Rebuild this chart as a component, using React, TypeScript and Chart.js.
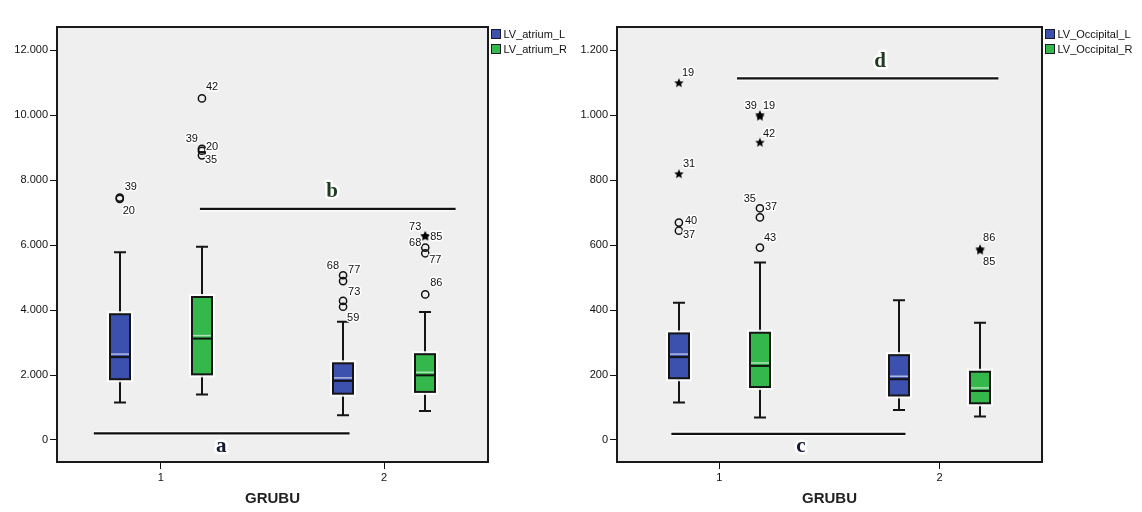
import React, { useEffect, useRef } from 'react';
import { Chart, registerables } from 'chart.js';

Chart.register(...registerables);

// ---------------- DATA ----------------
const GROUPS = [1, 2];
const GROUP_LABELS = ['1', '2'];

const ATRIUM_NAMES = ['LV_atrium_L', 'LV_atrium_R'];
// per group: [lower whisker, Q1, median, Q3, upper whisker]
const atriumL = [
  [1150, 1870, 2550, 3870, 5780],
  [760, 1425, 1820, 2360, 3640],
];
const atriumR = [
  [1400, 2020, 3120, 4400, 5950],
  [890, 1480, 1990, 2640, 3940],
];
const atriumTicks = [0, 2000, 4000, 6000, 8000, 10000, 12000];
// [seriesIndex, group, value, caseId, extreme(1) / outlier(0)]
const atriumOutliers: [number, number, number, string, number][] = [
  [0, 1, 7460, '39', 0],
  [0, 1, 7420, '20', 0],
  [1, 1, 10510, '42', 0],
  [1, 1, 8960, '39', 0],
  [1, 1, 8900, '20', 0],
  [1, 1, 8760, '35', 0],
  [0, 2, 5070, '68', 0],
  [0, 2, 4890, '77', 0],
  [0, 2, 4280, '73', 0],
  [0, 2, 4100, '59', 0],
  [1, 2, 6280, '73', 1],
  [1, 2, 6260, '85', 1],
  [1, 2, 5920, '68', 0],
  [1, 2, 5745, '77', 0],
  [1, 2, 4480, '86', 0],
];
// significance bars: [from group pos, to group pos, value, letter, letter pos, letter value]
const atriumSig: [number, number, number, string, number, number][] = [
  [0.7, 1.845, 205, 'a', 1.27, -205],
  [1.175, 2.32, 7110, 'b', 1.767, 7630],
];

const OCC_NAMES = ['LV_Occipital_L', 'LV_Occipital_R'];
const occL = [
  [115, 190, 255, 328, 422],
  [92, 137, 187, 261, 430],
];
const occR = [
  [69, 163, 228, 330, 546],
  [72, 113, 151, 210, 361],
];
const occTicks = [0, 200, 400, 600, 800, 1000, 1200];
const occOutliers: [number, number, number, string, number][] = [
  [0, 1, 1098, '19', 1],
  [0, 1, 818, '31', 1],
  [0, 1, 669, '40', 0],
  [0, 1, 644, '37', 0],
  [1, 1, 1000, '39', 1],
  [1, 1, 995, '19', 1],
  [1, 1, 915, '42', 1],
  [1, 1, 713, '35', 0],
  [1, 1, 685, '37', 0],
  [1, 1, 592, '43', 0],
  [1, 2, 587, '86', 1],
  [1, 2, 583, '85', 1],
];
const occSig: [number, number, number, string, number, number][] = [
  [0.782, 1.845, 19, 'c', 1.37, -21],
  [1.08, 2.267, 1113, 'd', 1.73, 1164],
];

// ---------------- STYLE ----------------
// label placement for case ids: [dx, dy, align]
const atriumLabelPos: [number, number, string][] = [
  [5, -11, 'l'], [3, 12, 'l'],
  [4, -11, 'l'], [-4, -10, 'r'], [4, -4, 'l'], [3, 5, 'l'],
  [-4, -9, 'r'], [5, -11, 'l'], [5, -9, 'l'], [4, 11, 'l'],
  [-4, -9, 'r'], [5, 0, 'l'], [-4, -5, 'r'], [4, 7, 'l'], [5, -11, 'l'],
];
const occLabelPos: [number, number, string][] = [
  [3, -10, 'l'], [4, -10, 'l'], [6, -2, 'l'], [4, 4, 'l'],
  [-3, -9, 'r'], [3, -11, 'l'], [3, -9, 'l'], [-4, -9, 'r'], [5, -10, 'l'], [4, -10, 'l'],
  [3, -11, 'l'], [3, 11, 'l'],
];

const FONT = '"Liberation Sans", Arial, Helvetica, sans-serif';
const SERIES_COLORS = ['#3c50ae', '#34b84b'];
const SERIES_OFFSETS = [-0.184, 0.184];
const LETTER_COLORS: Record<string, string> = { a: '#141a33', b: '#1e3b1e', c: '#141a33', d: '#1e3b1e' };
const fmt = (v: number) => (v === 0 ? '0' : String(v).replace(/\B(?=(\d{3})+(?!\d))/g, '.'));

function makeStar(r: number) {
  const c = document.createElement('canvas');
  const s = Math.ceil(r * 2 + 2);
  c.width = s;
  c.height = s;
  const ctx = c.getContext('2d')!;
  ctx.translate(s / 2, s / 2);
  ctx.beginPath();
  for (let i = 0; i < 10; i++) {
    const rad = i % 2 === 0 ? r : r * 0.45;
    const a = -Math.PI / 2 + (i * Math.PI) / 5;
    ctx.lineTo(rad * Math.cos(a), rad * Math.sin(a));
  }
  ctx.closePath();
  ctx.fillStyle = '#000';
  ctx.fill();
  return c;
}

type PanelCfg = {
  key: string;
  names: string[];
  series: number[][][];
  ticks: number[];
  outliers: [number, number, number, string, number][];
  labelPos: [number, number, string][];
  sig: [number, number, number, string, number, number][];
  yMin: number;
  yMax: number;
  yWidth: number;
  padRight: number;
};

function haloText(ctx: CanvasRenderingContext2D, t: string, x: number, y: number, color: string, halo = 3) {
  ctx.lineJoin = 'round';
  ctx.strokeStyle = 'rgba(255,255,255,0.95)';
  ctx.lineWidth = halo;
  ctx.strokeText(t, x, y);
  ctx.fillStyle = color;
  ctx.fillText(t, x, y);
}

function makePlugin(p: PanelCfg) {
  return {
    id: 'spss_' + p.key,
    beforeDatasetsDraw(chart: any) {
      const { ctx, chartArea: a, scales } = chart;
      const x = scales.x;
      const y = scales.y;
      ctx.save();
      ctx.fillStyle = '#efefef';
      ctx.fillRect(a.left, a.top, a.right - a.left, a.bottom - a.top);
      const hw = 10;
      const capW = 6;
      p.series.forEach((stats, si) => {
        stats.forEach((s, gi) => {
          const cx = Math.round(x.getPixelForValue(GROUPS[gi] + SERIES_OFFSETS[si]));
          const [lo, q1, med, q3, hi] = s.map((v) => y.getPixelForValue(v));
          ctx.strokeStyle = '#151515';
          ctx.lineWidth = 2;
          ctx.beginPath();
          ctx.moveTo(cx, q3);
          ctx.lineTo(cx, hi);
          ctx.moveTo(cx - capW, hi);
          ctx.lineTo(cx + capW, hi);
          ctx.moveTo(cx, q1);
          ctx.lineTo(cx, lo);
          ctx.moveTo(cx - capW, lo);
          ctx.lineTo(cx + capW, lo);
          ctx.stroke();
          // halo
          ctx.strokeStyle = 'rgba(255,255,255,0.9)';
          ctx.lineWidth = 6;
          ctx.strokeRect(cx - hw, q3, hw * 2, q1 - q3);
          ctx.fillStyle = SERIES_COLORS[si];
          ctx.fillRect(cx - hw, q3, hw * 2, q1 - q3);
          // median
          ctx.strokeStyle = 'rgba(255,255,255,0.6)';
          ctx.lineWidth = 1.5;
          ctx.beginPath();
          ctx.moveTo(cx - hw, med - 3);
          ctx.lineTo(cx + hw, med - 3);
          ctx.stroke();
          ctx.strokeStyle = '#111';
          ctx.lineWidth = 2;
          ctx.beginPath();
          ctx.moveTo(cx - hw, med);
          ctx.lineTo(cx + hw, med);
          ctx.stroke();
          ctx.strokeStyle = '#151515';
          ctx.lineWidth = 2;
          ctx.strokeRect(cx - hw, q3, hw * 2, q1 - q3);
        });
      });
      ctx.restore();
    },
    afterDatasetsDraw(chart: any) {
      const { ctx, scales } = chart;
      const x = scales.x;
      const y = scales.y;
      ctx.save();
      // case labels
      ctx.font = '11px ' + FONT;
      ctx.textBaseline = 'middle';
      p.outliers.forEach((o, i) => {
        const px = x.getPixelForValue(o[1] + SERIES_OFFSETS[o[0]]);
        const py = y.getPixelForValue(o[2]);
        const [dx, dy, al] = p.labelPos[i];
        ctx.textAlign = al === 'r' ? 'right' : 'left';
        haloText(ctx, o[3], px + dx, py + dy, '#111');
      });
      // significance bars
      p.sig.forEach(([x0, x1, v, letter, lx, lv]) => {
        const py = y.getPixelForValue(v);
        ctx.strokeStyle = 'rgba(255,255,255,0.8)';
        ctx.lineWidth = 5;
        ctx.beginPath();
        ctx.moveTo(x.getPixelForValue(x0), py);
        ctx.lineTo(x.getPixelForValue(x1), py);
        ctx.stroke();
        ctx.strokeStyle = '#111';
        ctx.lineWidth = 2.2;
        ctx.beginPath();
        ctx.moveTo(x.getPixelForValue(x0), py);
        ctx.lineTo(x.getPixelForValue(x1), py);
        ctx.stroke();
        ctx.font = 'bold 21px "Liberation Serif", "Times New Roman", serif';
        ctx.textAlign = 'center';
        ctx.textBaseline = 'middle';
        haloText(ctx, letter, x.getPixelForValue(lx), y.getPixelForValue(lv), LETTER_COLORS[letter], 5);
      });
      ctx.restore();
    },
    afterDraw(chart: any) {
      const { ctx, chartArea: a } = chart;
      ctx.save();
      ctx.strokeStyle = '#1a1a1a';
      ctx.lineWidth = 2;
      ctx.strokeRect(a.left, a.top, a.right - a.left, a.bottom - a.top);
      // legend
      ctx.font = '11px ' + FONT;
      ctx.textAlign = 'left';
      ctx.textBaseline = 'middle';
      p.names.forEach((n, i) => {
        const lx = a.right + 3.5;
        const ly = a.top + 2.5 + i * 15;
        ctx.fillStyle = SERIES_COLORS[i];
        ctx.fillRect(lx, ly, 9, 9);
        ctx.strokeStyle = '#1a1a2a';
        ctx.lineWidth = 1;
        ctx.strokeRect(lx, ly, 9, 9);
        ctx.fillStyle = '#111';
        ctx.fillText(n, lx + 12, ly + 5);
      });
      ctx.restore();
    },
  };
}

function Panel({ p, left, width }: { p: PanelCfg; left: number; width: number }) {
  const ref = useRef<HTMLCanvasElement>(null);
  useEffect(() => {
    const star = makeStar(5);
    const circles = p.outliers
      .filter((o) => !o[4])
      .map((o) => ({ x: o[1] + SERIES_OFFSETS[o[0]], y: o[2] }));
    const stars = p.outliers
      .filter((o) => o[4])
      .map((o) => ({ x: o[1] + SERIES_OFFSETS[o[0]], y: o[2] }));
    const axisGrid = {
      drawOnChartArea: false,
      drawTicks: true,
      tickLength: 7,
      color: '#111',
      lineWidth: 1,
    };
    const chart = new Chart(ref.current!, {
      type: 'scatter',
      data: {
        datasets: [
          {
            data: circles,
            pointStyle: 'circle',
            pointRadius: 3.6,
            borderColor: '#111',
            borderWidth: 1.5,
            backgroundColor: 'rgba(0,0,0,0)',
          },
          {
            data: stars,
            pointStyle: star as any,
            pointRadius: 5,
          },
        ],
      },
      options: {
        responsive: false,
        animation: false,
        devicePixelRatio: 1,
        events: [],
        layout: { padding: { top: 27, right: p.padRight, left: 0, bottom: 0 } },
        plugins: { legend: { display: false }, tooltip: { enabled: false } },
        scales: {
          x: {
            type: 'linear',
            min: 0.535,
            max: 2.465,
            afterBuildTicks: (s: any) => {
              s.ticks = GROUPS.map((v) => ({ value: v }));
            },
            afterFit: (s: any) => {
              s.height = 50;
            },
            grid: axisGrid,
            border: { display: false },
            ticks: {
              font: { family: FONT, size: 11 },
              color: '#111',
              padding: 2,
              maxRotation: 0,
              autoSkip: false,
              callback: (v: any) => GROUP_LABELS[GROUPS.indexOf(Number(v))] ?? '',
            },
            title: {
              display: true,
              text: 'GRUBU',
              font: { family: FONT, size: 15, weight: 'bold' },
              color: '#222',
              padding: { top: 0, bottom: 4 },
            },
          },
          y: {
            type: 'linear',
            min: p.yMin,
            max: p.yMax,
            afterBuildTicks: (s: any) => {
              s.ticks = p.ticks.map((v) => ({ value: v }));
            },
            afterFit: (s: any) => {
              s.width = p.yWidth;
            },
            grid: axisGrid,
            border: { display: false },
            ticks: {
              font: { family: FONT, size: 11 },
              color: '#111',
              padding: 2,
              autoSkip: false,
              callback: (v: any) => fmt(Number(v)),
            },
          },
        },
      } as any,
      plugins: [makePlugin(p)],
    });
    return () => chart.destroy();
  }, []);
  return (
    <canvas
      ref={ref}
      width={width}
      height={512}
      style={{ position: 'absolute', left, top: 0, width, height: 512 }}
    />
  );
}

const atriumPanel: PanelCfg = {
  key: 'atrium',
  names: ATRIUM_NAMES,
  series: [atriumL, atriumR],
  ticks: atriumTicks,
  outliers: atriumOutliers,
  labelPos: atriumLabelPos,
  sig: atriumSig,
  yMin: -677,
  yMax: 12708,
  yWidth: 57,
  padRight: 83,
};

const occPanel: PanelCfg = {
  key: 'occ',
  names: OCC_NAMES,
  series: [occL, occR],
  ticks: occTicks,
  outliers: occOutliers,
  labelPos: occLabelPos,
  sig: occSig,
  yMin: -67.7,
  yMax: 1270.8,
  yWidth: 46,
  padRight: 100,
};

export default function App() {
  return (
    <div
      style={{
        position: 'fixed',
        left: 0,
        top: 0,
        width: 1142,
        height: 512,
        background: '#fff',
        overflow: 'hidden',
      }}
    >
      <Panel p={atriumPanel} left={0} width={571} />
      <Panel p={occPanel} left={571} width={571} />
    </div>
  );
}
